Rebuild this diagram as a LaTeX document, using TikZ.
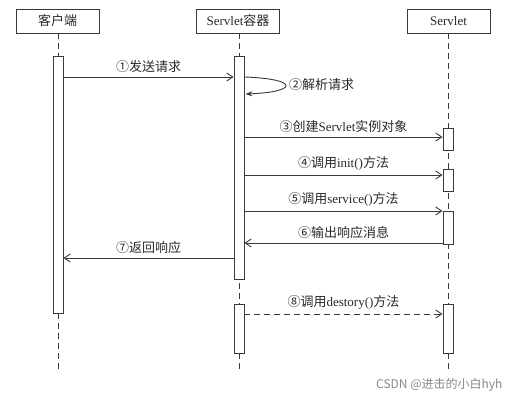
\documentclass[tikz,border=0pt]{standalone}
\usepackage{fontspec}
\setmainfont{Liberation Serif}
\newfontfamily\cjk{Noto Sans CJK SC}
\usetikzlibrary{arrows.meta}
\newcommand{\zh}[1]{{\cjk #1}}
\definecolor{ln}{HTML}{3A3A3A}
\definecolor{tx}{HTML}{2A2A2A}
\definecolor{wm}{HTML}{8A8A8A}
\begin{document}
\begin{tikzpicture}[x=1pt,y=-1pt,
  every node/.style={font=\fontsize{13}{15}\selectfont, text=tx},
  headbox/.style={draw=ln, line width=0.9pt, minimum width=83pt, minimum height=24pt, inner sep=0pt, fill=white},
  actbox/.style={draw=ln, line width=0.9pt, minimum width=10pt, inner sep=0pt, fill=white},
  life/.style={draw=ln, line width=0.9pt, dash pattern=on 6pt off 4pt},
  msg/.style={draw=ln, line width=0.9pt, -{Straight Barb[length=6pt,width=8pt]}},
  lbl/.style={inner sep=0pt, anchor=south}
]
\useasboundingbox (0,0) rectangle (529,401);
\fill[white] (0,0) rectangle (529,401);

% heads
\node[headbox] (hc) at (57.5,21) {\zh{客户端}};
\node[headbox] (hs) at (238,21) {Servlet\zh{容器}};
\node[headbox] (hv) at (448.5,21) {Servlet};

% lifeline ends
\coordinate (ec) at (58,373);
\coordinate (es) at (239,373);
\coordinate (ev) at (448,373);
\draw[life] (hc.south -| ec) -- (ec);
\draw[life] (hs.south -| es) -- (es);
\draw[life] (hv.south -| ev) -- (ev);

% activations
\node[actbox, minimum height=257pt] (ac) at (58,184.5) {};
\node[actbox, minimum height=223pt] (as1) at (239,167.5) {};
\node[actbox, minimum height=49pt] (as2) at (239,328.5) {};
\node[actbox, minimum height=22pt] (av1) at (448,139) {};
\node[actbox, minimum height=22pt] (av2) at (448,180) {};
\node[actbox, minimum height=33pt] (av3) at (448,227.5) {};
\node[actbox, minimum height=49pt] (av4) at (448,328.5) {};

% message end points
\coordinate (m1a) at (ac.east |- 0,77);
\coordinate (m1b) at (as1.west |- 0,77);
\coordinate (m2a) at (as1.east |- 0,77);
\coordinate (m2b) at ([xshift=1pt]as1.east |- 0,94);
\coordinate (m3a) at (as1.east |- 0,137);
\coordinate (m3b) at (av1.west |- 0,137);
\coordinate (m4a) at (as1.east |- 0,175);
\coordinate (m4b) at (av2.west |- 0,175);
\coordinate (m5a) at (as1.east |- 0,211);
\coordinate (m5b) at (av3.west |- 0,211);
\coordinate (m6a) at (av3.west |- 0,243);
\coordinate (m6b) at (as1.east |- 0,243);
\coordinate (m7a) at (as1.west |- 0,258);
\coordinate (m7b) at (ac.east |- 0,258);
\coordinate (m8a) at (as2.east |- 0,314);
\coordinate (m8b) at (av4.west |- 0,314);

\draw[msg] (m1a) -- node[lbl, above=4pt] (l1) {\zh{①发送请求}} (m1b);
\draw[draw=ln, line width=0.9pt, -{Stealth[length=7pt,width=5pt]}] (m2a) .. controls (300,79) and (298,92) .. (m2b);
\node[inner sep=0pt, anchor=west] (l2) at (289,85) {\zh{②解析请求}};
\draw[msg] (m3a) -- node[lbl, above=4pt] (l3) {\zh{③创建}Servlet\zh{实例对象}} (m3b);
\draw[msg] (m4a) -- node[lbl, above=4pt] (l4) {\zh{④调用}init()\zh{方法}} (m4b);
\draw[msg] (m5a) -- node[lbl, above=4pt] (l5) {\zh{⑤调用}service()\zh{方法}} (m5b);
\draw[msg] (m6a) -- node[lbl, above=4pt] (l6) {\zh{⑥输出响应消息}} (m6b);
\draw[msg] (m7a) -- node[lbl, above=4pt] (l7) {\zh{⑦返回响应}} (m7b);
\draw[msg, dash pattern=on 6pt off 4pt] (m8a) -- node[lbl, above=4pt] (l8) {\zh{⑧调用}destory()\zh{方法}} (m8b);

% watermark
\node[anchor=west, inner sep=0pt, text=wm, font=\cjk\fontsize{12}{14}\selectfont] (wmk) at (376,385) {CSDN @进击的小白hyh};
\end{tikzpicture}
\end{document}
